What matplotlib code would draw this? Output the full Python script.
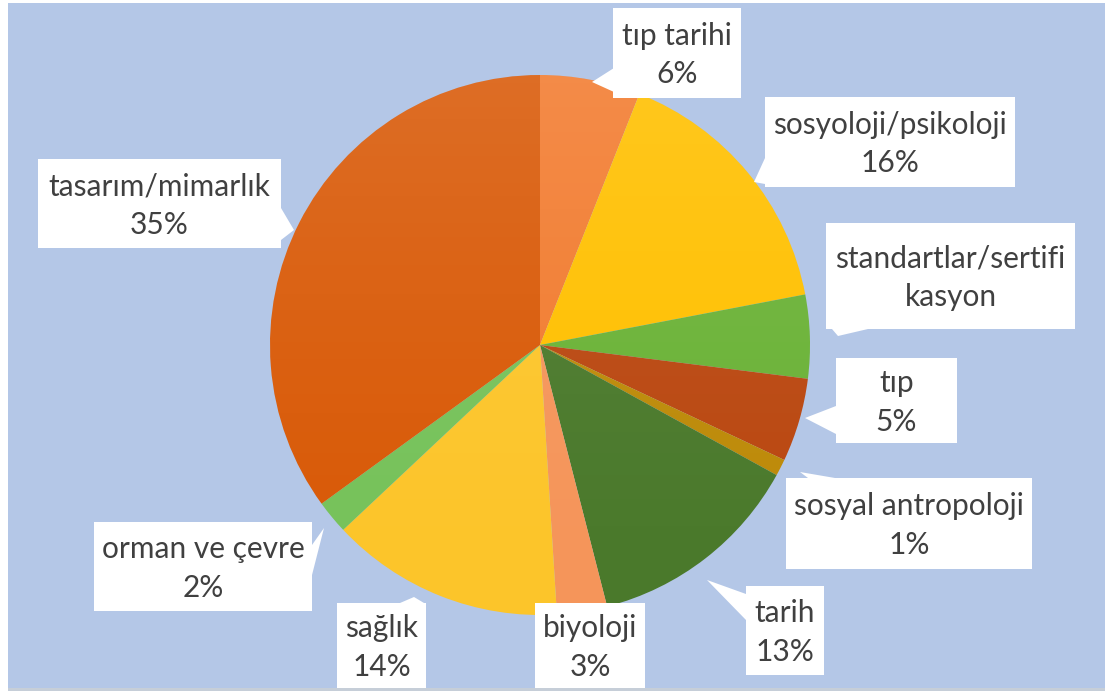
import numpy as np
import matplotlib.pyplot as plt
from matplotlib.patches import Rectangle, Polygon, Circle

plt.rcParams['font.family'] = ['Lato', 'DejaVu Sans']

# slices, clockwise from 12 o'clock
names = ['tıp tarihi', 'sosyoloji/psikoloji', 'standartlar/sertifikasyon', 'tıp',
         'sosyal antropoloji', 'tarih', 'biyoloji', 'sağlık', 'orman ve çevre',
         'tasarım/mimarlık']
values = [6, 16, 5, 5, 1, 13, 3, 14, 2, 35]
colors = ['#F27C30', '#FFC000', '#6AB236', '#BA4710', '#BD8A08',
          '#4A792B', '#F5955A', '#FCC52A', '#76C25A', '#D95A08']

# label text as it is wrapped in the chart (the standartlar one has no percent)
label_texts = []
for n, v in zip(names, values):
    if n.startswith('standartlar'):
        label_texts.append('standartlar/sertifi\nkasyon')
    else:
        label_texts.append(f'{n}\n{v}%')

# label boxes in pixel coords (x0, y0, x1, y1), y going down
boxes = [(613, 8, 741, 98), (765, 97, 1015, 187), (826, 223, 1075, 329),
         (836, 358, 957, 443), (786, 478, 1032, 569), (746, 586, 824, 675),
         (535, 603, 645, 688), (337, 603, 426, 688), (94, 522, 312, 611),
         (38, 159, 281, 248)]
# callout pointers: two base points on the box and the tip
pointers = [((614, 68), (614, 92), (592, 82)),
            ((765, 158), (765, 184), (754, 182)),
            ((832, 329), (868, 329), (838, 336)),
            ((836, 406), (836, 434), (805, 418)),
            ((808, 478), (835, 478), (800, 472)),
            ((746, 594), (746, 620), (707, 580)),
            None,
            ((400, 603), (424, 603), (414, 597)),
            ((312, 545), (312, 575), (324, 528)),
            ((281, 208), (281, 240), (294, 230))]

W, H = 1105, 691
cx, cy, r = 540, 345, 270

fig = plt.figure(figsize=(W / 100, H / 100), dpi=100, facecolor='white')
ax = fig.add_axes([0, 0, 1, 1])
ax.axis('off')

# blue chart area
ax.add_patch(Rectangle((8, 3), W - 8, 685, facecolor='#B4C7E7', edgecolor='none', zorder=0))
ax.add_patch(Rectangle((8, 688), W - 8, 3, facecolor='#C6CED8', edgecolor='none', zorder=0))

# y axis is inverted (pixel coords), so startangle -90 + counterclock = top, clockwise
wedges, _ = ax.pie(values, colors=colors, startangle=-90, counterclock=True,
                   radius=r, center=(cx, cy), wedgeprops=dict(linewidth=0), frame=True)
for w in wedges:
    w.set_zorder(1)

# soft light-to-dark shading like the office gradient
grad = np.zeros((200, 2, 4))
t = np.linspace(0, 1, 200)
grad[:, :, :3] = 1.0
grad[:, :, 3] = (0.12 * (1 - t) ** 1.5)[:, None]
im = ax.imshow(grad, extent=(cx - r, cx + r, cy + r, cy - r), aspect='auto', zorder=2)
clip = Circle((cx, cy), r, transform=ax.transData)
im.set_clip_path(clip)

for (x0, y0, x1, y1), txt, p in zip(boxes, label_texts, pointers):
    ax.add_patch(Rectangle((x0, y0), x1 - x0, y1 - y0, facecolor='white',
                           edgecolor='none', zorder=4))
    if p is not None:
        ax.add_patch(Polygon(p, closed=True, facecolor='white', edgecolor='none', zorder=4))
    ax.text((x0 + x1) / 2, (y0 + y1) / 2 + 2, txt, ha='center', va='center',
            fontsize=21.5, color='#404040', linespacing=1.45, zorder=5)

ax.set_xlim(0, W)
ax.set_ylim(H, 0)
ax.set_aspect('auto')

fig.savefig('out.png', dpi=100, facecolor='white')
